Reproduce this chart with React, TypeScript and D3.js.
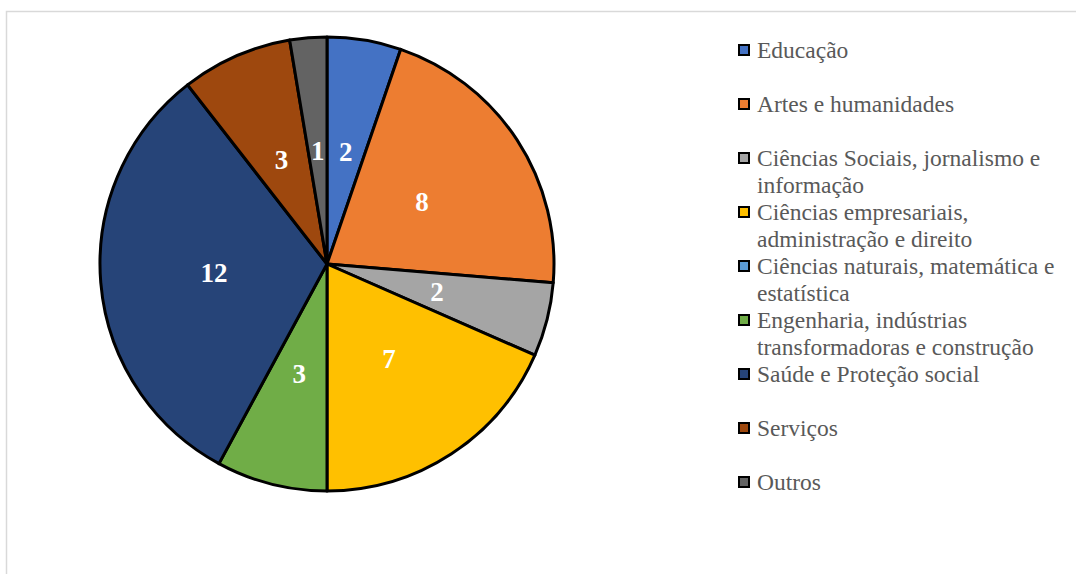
import React from "react";
import * as d3 from "d3";

const categories = [
  "Educação",
  "Artes e humanidades",
  "Ciências Sociais, jornalismo e informação",
  "Ciências empresariais, administração e direito",
  "Ciências naturais, matemática e estatística",
  "Engenharia, indústrias transformadoras e construção",
  "Saúde e Proteção social",
  "Serviços",
  "Outros",
];
const legendLines = [
  ["Educação"],
  ["Artes e humanidades"],
  ["Ciências Sociais, jornalismo e", "informação"],
  ["Ciências empresariais,", "administração e direito"],
  ["Ciências naturais, matemática e", "estatística"],
  ["Engenharia, indústrias", "transformadoras e construção"],
  ["Saúde e Proteção social"],
  ["Serviços"],
  ["Outros"],
];
const values = [2, 8, 2, 7, 0, 3, 12, 3, 1];
const colors = [
  "#4472C4",
  "#ED7D31",
  "#A5A5A5",
  "#FFC000",
  "#5B9BD5",
  "#70AD47",
  "#264478",
  "#9E480E",
  "#636363",
];

export default function App() {
  const cx = 327;
  const cy = 264;
  const r = 227;
  const pie = d3.pie<number>().sort(null).value((d) => d)(values);
  const arc = d3.arc<d3.PieArcDatum<number>>().innerRadius(0).outerRadius(r);
  const labelArc = d3
    .arc<d3.PieArcDatum<number>>()
    .innerRadius(r * 0.5)
    .outerRadius(r * 0.5);

  const legendX = 738;
  const legendY0 = 50;
  const step = 54;
  const lineH = 27;

  return (
    <svg
      width={1076}
      height={574}
      style={{ position: "absolute", left: 0, top: 0, display: "block" }}
    >
      <rect x={0} y={0} width={1076} height={574} fill="#fff" />
      <rect
        x={6.5}
        y={11.5}
        width={1090}
        height={600}
        fill="#fff"
        stroke="#d9d9d9"
        strokeWidth={1.5}
      />
      <g transform={`translate(${cx},${cy})`}>
        {pie.map((p, i) =>
          p.value > 0 ? (
            <path
              key={i}
              d={arc(p) || ""}
              fill={colors[i]}
              stroke="#000"
              strokeWidth={3}
              strokeLinejoin="round"
            />
          ) : null
        )}
        {pie.map((p, i) => {
          if (p.value <= 0) return null;
          const [x, y] = labelArc.centroid(p);
          return (
            <text
              key={"l" + i}
              x={x}
              y={y}
              textAnchor="middle"
              dominantBaseline="central"
              fill="#fff"
              fontFamily="'Liberation Serif', 'Times New Roman', serif"
              fontWeight="bold"
              fontSize={27}
            >
              {p.value}
            </text>
          );
        })}
      </g>
      <g>
        {categories.map((c, i) => {
          const y = legendY0 + i * step;
          return (
            <g key={c}>
              <rect
                x={legendX + 1}
                y={y - 5}
                width={10}
                height={10}
                fill={colors[i]}
                stroke="#000"
                strokeWidth={2}
              />
              {legendLines[i].map((ln, j) => (
                <text
                  key={j}
                  x={757}
                  y={y + j * lineH}
                  dominantBaseline="central"
                  fill="#595959"
                  fontFamily="'Liberation Serif', 'Times New Roman', serif"
                  fontSize={23.5}
                >
                  {ln}
                </text>
              ))}
            </g>
          );
        })}
      </g>
    </svg>
  );
}
